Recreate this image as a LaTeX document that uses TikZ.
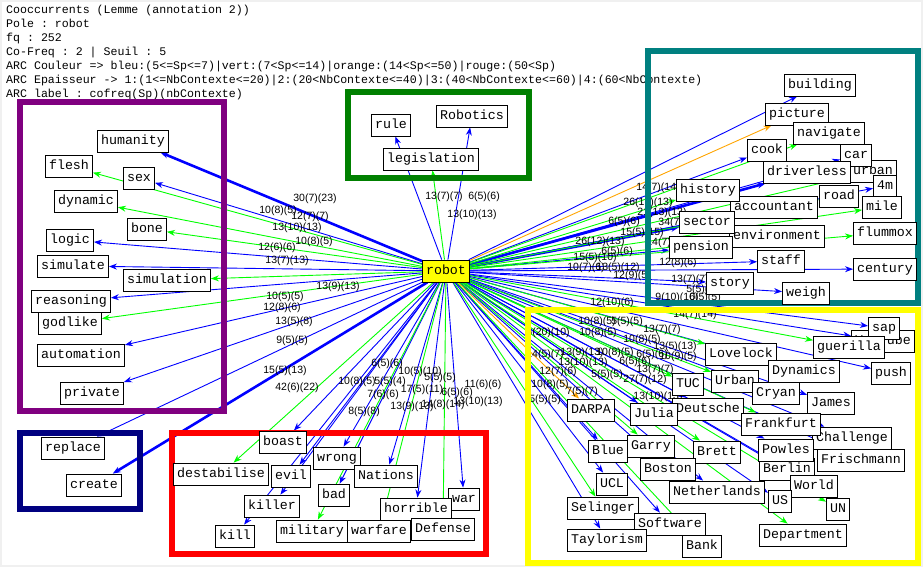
\documentclass[tikz,border=0pt]{standalone}
\usepackage{fontspec}
\setmainfont{Liberation Sans}
\setmonofont{Liberation Mono}
\usetikzlibrary{arrows.meta}
\definecolor{arcblue}{RGB}{0,0,255}
\definecolor{arcgreen}{RGB}{0,255,0}
\definecolor{arcorange}{RGB}{255,165,0}
\definecolor{grpviolet}{RGB}{128,0,128}
\definecolor{grpnavy}{RGB}{0,0,128}
\definecolor{grpgreen}{RGB}{0,128,0}
\definecolor{grpteal}{RGB}{0,128,128}
\definecolor{grpyellow}{RGB}{255,255,0}
\definecolor{grpred}{RGB}{255,0,0}
\definecolor{canvasgray}{RGB}{240,240,240}
\pgfdeclarelayer{bg}
\pgfdeclarelayer{back}
\pgfdeclarelayer{frames}
\pgfsetlayers{bg,back,frames,main}

\begin{document}
\begin{tikzpicture}[
      x=1pt, y=-1pt,
      word/.style={draw, fill=white, line width=0.8pt,
        font=\ttfamily\fontsize{13.3}{14}\selectfont,
        inner xsep=3.6pt, inner ysep=0pt, minimum height=22pt,
        text height=9.5pt, text depth=2.5pt},
      pole/.style={word, fill=grpyellow},
      arc/.style={-{Stealth[length=8pt,width=6pt]}, line width=0.9pt},
      blu/.style={arc, arcblue},
      grn/.style={arc, arcgreen},
      org/.style={arc, arcorange},
      fat/.style={line width=2.6pt},
      lbl/.style={font=\fontsize{10.5}{11}\selectfont, inner sep=0pt},
      hdr/.style={font=\ttfamily\fontsize{11.6}{12}\selectfont,
        anchor=base west, inner sep=0pt},
      grp/.style={line width=6pt}
    ]
    \useasboundingbox (0,0) rectangle (923,567);

    % pole
    \node[pole] (robot) at (446,271) {robot};

    % humanity group
    \node[word] (humanity) at (133,141) {humanity};
    \node[word] (flesh) at (69,166) {flesh};
    \node[word] (sex) at (139,178) {sex};
    \node[word] (dynamic) at (86,201) {dynamic};
    \node[word] (bone) at (147,229) {bone};
    \node[word] (logic) at (70,240) {logic};
    \node[word] (simulate) at (73,266) {simulate};
    \node[word] (simulation) at (167,280) {simulation};
    \node[word] (reasoning) at (71,301) {reasoning};
    \node[word] (godlike) at (70,323) {godlike};
    \node[word] (automation) at (81,355) {automation};
    \node[word] (private) at (92,393) {private};
    \node[word] (replace) at (73,448) {replace};
    \node[word] (create) at (94,485) {create};

    % legislation group
    \node[word] (rule) at (391,125) {rule};
    \node[word] (Robotics) at (472,116) {Robotics};
    \node[word] (legislation) at (431,159) {legislation};

    % driverless group
    \node[word] (building) at (820,85) {building};
    \node[word] (picture) at (797,114) {picture};
    \node[word] (navigate) at (829,133) {navigate};
    \node[word] (cook) at (767,150) {cook};
    \node[word] (urban) at (873,171) {urban};
    \node[word] (car) at (856,155) {car};
    \node[word] (driverless) at (807,172) {driverless};
    \node[word] (n4m) at (885,186) {4m};
    \node[word] (accountant) at (774,207) {accountant};
    \node[word] (history) at (708,190) {history};
    \node[word] (road) at (839,196) {road};
    \node[word] (mile) at (882,207) {mile};
    \node[word] (environment) at (777,236) {environment};
    \node[word] (sector) at (707,222) {sector};
    \node[word] (flummox) at (885,233) {flummox};
    \node[word] (pension) at (701,247) {pension};
    \node[word] (staff) at (781,261) {staff};
    \node[word] (century) at (885,269) {century};
    \node[word] (story) at (730,283) {story};
    \node[word] (weigh) at (806,293) {weigh};

    % names group
    \node[word] (YouTube) at (883,341) {YouTube};
    \node[word] (sap) at (884,328) {sap};
    \node[word] (guerilla) at (849,347) {guerilla};
    \node[word] (push) at (891,373) {push};
    \node[word] (Lovelock) at (741,354) {Lovelock};
    \node[word] (Dynamics) at (804,371) {Dynamics};
    \node[word] (TUC) at (688,384) {TUC};
    \node[word] (Urban) at (735,381) {Urban};
    \node[word] (Cryan) at (776,393) {Cryan};
    \node[word] (James) at (831,403) {James};
    \node[word] (DARPA) at (591,410) {DARPA};
    \node[word] (Deutsche) at (708,409) {Deutsche};
    \node[word] (Julia) at (654,414) {Julia};
    \node[word] (Challenge) at (852,438) {Challenge};
    \node[word] (Frankfurt) at (781,424) {Frankfurt};
    \node[word] (Garry) at (651,446) {Garry};
    \node[word] (Blue) at (608,451) {Blue};
    \node[word] (Brett) at (717,452) {Brett};
    \node[word] (Berlin) at (787,469) {Berlin};
    \node[word] (Powles) at (786,450) {Powles};
    \node[word] (Frischmann) at (861,460) {Frischmann};
    \node[word] (Boston) at (668,469) {Boston};
    \node[word] (UCL) at (612,484) {UCL};
    \node[word] (Netherlands) at (717,492) {Netherlands};
    \node[word] (World) at (814,486) {World};
    \node[word] (US) at (780,501) {US};
    \node[word] (UN) at (838,509) {UN};
    \node[word] (Selinger) at (603,508) {Selinger};
    \node[word] (Bank) at (702,546) {Bank};
    \node[word] (Software) at (670,524) {Software};
    \node[word] (Department) at (803,535) {Department};
    \node[word] (Taylorism) at (607,540) {Taylorism};

    % war group
    \node[word] (boast) at (283,442) {boast};
    \node[word] (destabilise) at (221,474) {destabilise};
    \node[word] (wrong) at (337,458) {wrong};
    \node[word] (evil) at (291,476) {evil};
    \node[word] (Nations) at (386,476) {Nations};
    \node[word] (killer) at (272,506) {killer};
    \node[word] (bad) at (334,495) {bad};
    \node[word] (war) at (464,499) {war};
    \node[word] (horrible) at (416,509) {horrible};
    \node[word] (kill) at (235,536) {kill};
    \node[word] (military) at (312,531) {military};
    \node[word] (warfare) at (379,531) {warfare};
    \node[word] (Defense) at (443,529) {Defense};

    \begin{pgfonlayer}{bg}
      \fill[canvasgray] (0,0) rectangle (923,567);
      \fill[white] (2,2) rectangle (921,565);
    \end{pgfonlayer}

    \begin{pgfonlayer}{back}
      \node[hdr] (hdr1) at (6,14) {Cooccurrents (Lemme (annotation 2))};
      \node[hdr] (hdr2) at (6,28) {Pole : robot};
      \node[hdr] (hdr3) at (6,42) {fq : 252};
      \node[hdr] (hdr4) at (6,56) {Co-Freq : 2 | Seuil : 5};
      \node[hdr] (hdr5) at (6,70) {ARC Couleur => bleu:(5<=Sp<=7)|vert:(7<Sp<=14)|orange:(14<Sp<=50)|rouge:(50<Sp)};
      \node[hdr] (hdr6) at (6,84) {ARC Epaisseur -> 1:(1<=NbContexte<=20)|2:(20<NbContexte<=40)|3:(40<NbContexte<=60)|4:(60<NbContexte)};
      \node[hdr] (hdr7) at (6,98) {ARC label : cofreq(Sp)(nbContexte)};

      \foreach \w in {sex,logic,simulate,reasoning,automation,private,replace,
          rule,Robotics,building,cook,car,n4m,accountant,pension,staff,century,
          story,weigh,YouTube,sap,push,Dynamics,Cryan,James,Julia,Deutsche,
          Challenge,Blue,Powles,Frischmann,Boston,Berlin,UCL,Netherlands,US,
          World,Software,Taylorism,boast,wrong,evil,Nations,killer,bad,
          horrible,war,kill}
        \draw[blu] (robot) -- (\w);
      \foreach \w in {humanity,create,driverless,sector}
        \draw[blu,fat] (robot) -- (\w);
      \foreach \w in {flesh,dynamic,bone,simulation,godlike,legislation,
          navigate,urban,history,road,mile,environment,flummox,guerilla,
          Lovelock,TUC,Urban,Frankfurt,Garry,Brett,UN,Selinger,Department,
          Bank,destabilise,military,warfare,Defense}
        \draw[grn] (robot) -- (\w);
      \foreach \w in {picture,DARPA}
        \draw[org] (robot) -- (\w);

      \foreach \x/\y/\t [count=\i] in {
          315/199/30(7)(23), 278/211/10(8)(5), 310/217/12(7)(7),
          297/228/13(10)(13), 314/242/10(8)(5), 277/248/12(6)(6),
          287/261/13(7)(13), 338/287/13(9)(13), 285/297/10(5)(5),
          282/308/12(8)(6), 294/322/13(5)(8), 292/341/9(5)(5),
          285/371/15(5)(13), 297/388/42(6)(22),
          444/197/13(7)(7), 484/197/6(5)(6), 472/215/13(10)(13),
          387/364/6(5)(6), 420/372/10(5)(10), 357/382/10(8)(5),
          390/382/5(5)(4), 440/378/5(5)(5), 383/395/7(6)(6),
          422/390/17(5)(11), 457/393/6(5)(6), 483/385/11(6)(6),
          364/412/8(5)(8), 412/407/13(9)(13), 443/405/14(8)(14),
          478/402/13(10)(13),
          658/188/14(7)(14), 648/203/26(13)(13), 662/213/21(13)(13),
          624/222/6(5)(6), 680/223/34(7)(21), 642/233/15(5)(15),
          600/242/26(12)(13), 665/243/14(7)(7), 617/252/6(5)(6),
          595/258/15(5)(10), 586/268/10(7)(6), 618/268/13(5)(12),
          632/276/12(9)(5), 678/263/12(8)(6), 690/280/13(7)(7),
          702/290/5(5)(5), 677/298/9(10)(10), 705/298/6(5)(5),
          612/303/12(10)(6),
          695/315/14(7)(14), 597/322/10(8)(5), 627/322/5(5)(5),
          662/330/13(7)(7), 548/333/6(20)(10), 598/333/10(8)(5),
          642/340/10(8)(5), 675/347/13(5)(13), 545/355/14(5)(7),
          582/353/13(9)(13), 615/353/10(8)(5), 652/355/6(5)(6),
          678/357/10(9)(5), 583/363/13(10)(13), 635/362/6(5)(6),
          655/370/13(7)(7), 558/372/12(7)(6), 607/375/5(5)(5),
          645/380/27(7)(12), 550/385/10(8)(5), 582/392/7(5)(7),
          658/397/13(10)(13), 545/400/5(5)(5)}
        \node[lbl] (lab\i) at (\x,\y) {\t};
    \end{pgfonlayer}

    \begin{pgfonlayer}{frames}
      \draw[grp, grpviolet] (20,102) rectangle (224,411);
      \draw[grp, grpnavy] (20,433) rectangle (140,509);
      \draw[grp, grpred] (172,433) rectangle (486,554);
      \draw[grp, grpgreen] (348,92) rectangle (529,178);
      \draw[grp, grpteal] (648,51) rectangle (918,303);
      \draw[grp, grpyellow] (528,310) rectangle (918,563);
    \end{pgfonlayer}
  \end{tikzpicture}
\end{document}
